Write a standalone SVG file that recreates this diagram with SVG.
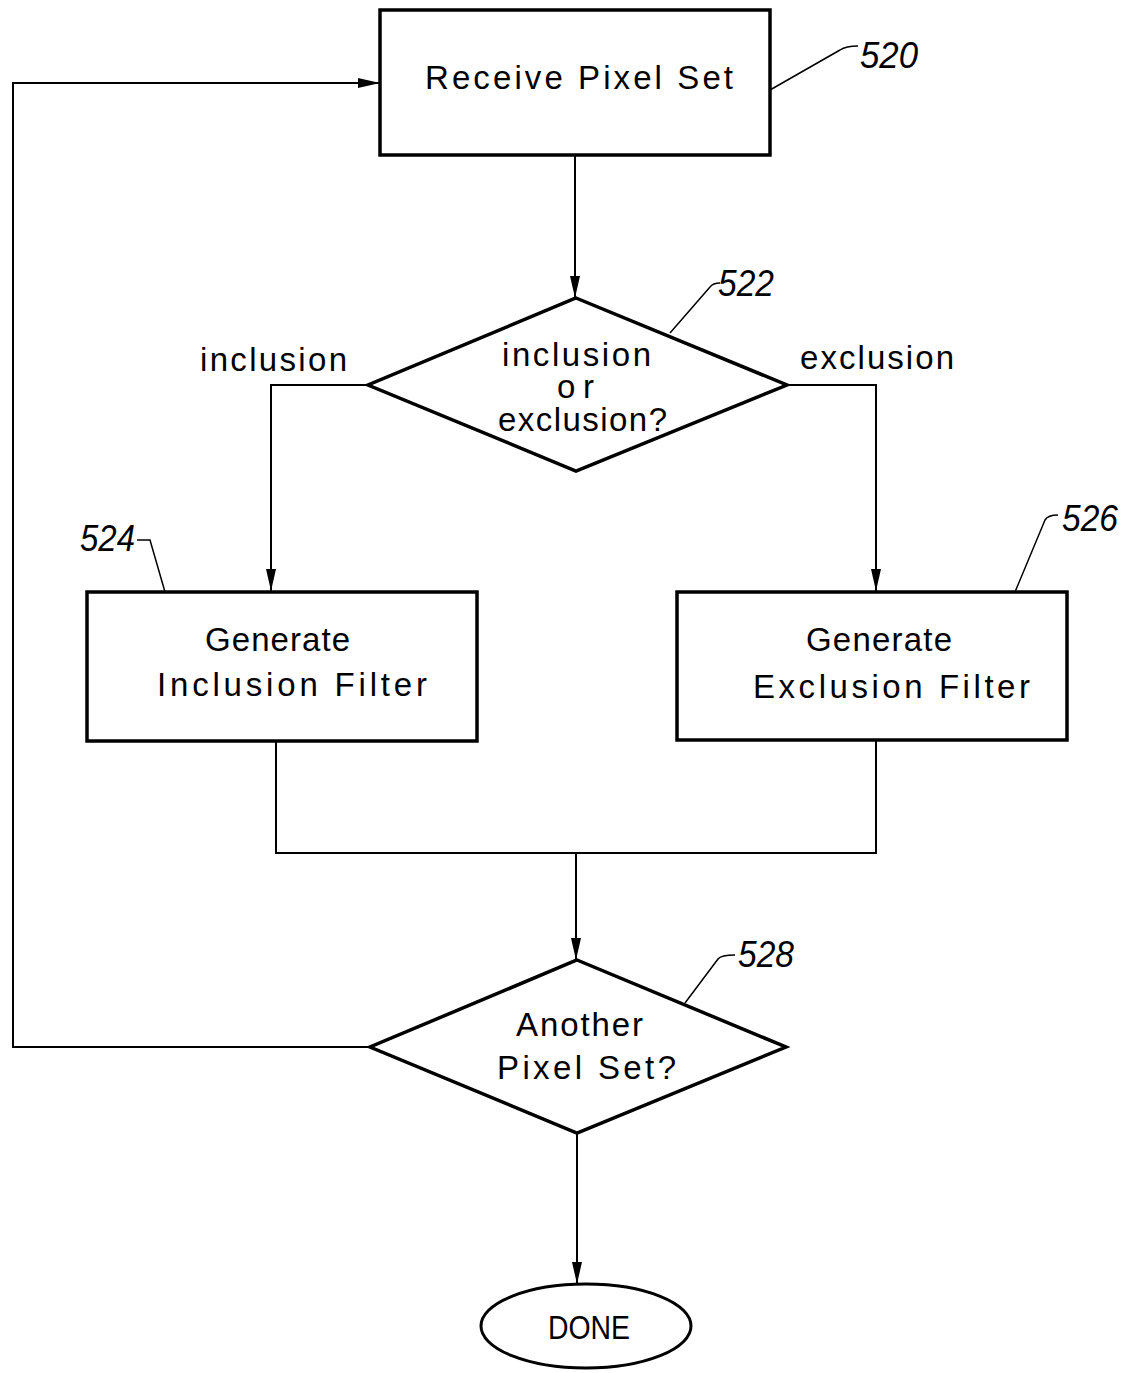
<svg xmlns="http://www.w3.org/2000/svg" width="1133" height="1373" viewBox="0 0 1133 1373">
<style>
.shape{fill:#fff;stroke:#000;stroke-width:3.5}
.conn{fill:none;stroke:#000;stroke-width:2}
.lead{fill:none;stroke:#000;stroke-width:1.5}
.t{font-family:"Liberation Sans",Arial,sans-serif;font-size:33px;fill:#000}
.n{font-family:"Liberation Sans",Arial,sans-serif;font-size:36px;font-style:italic;fill:#000}
</style>
<defs>
<marker id="ah" viewBox="0 0 22 10" refX="22" refY="5" markerWidth="22" markerHeight="10" markerUnits="userSpaceOnUse" orient="auto">
<path d="M0,0 L22,5 L0,10 Z" fill="#000"/>
</marker>
</defs>
<rect width="1133" height="1373" fill="#fff"/>
<g id="connectors">
<line class="conn" x1="575" y1="155" x2="575" y2="298" marker-end="url(#ah)"/>
<polyline class="conn" points="368,385 271,385 271,591" marker-end="url(#ah)"/>
<polyline class="conn" points="787,385 876,385 876,591" marker-end="url(#ah)"/>
<polyline class="conn" points="276,741 276,853 876,853 876,740"/>
<line class="conn" x1="576" y1="853" x2="576" y2="960" marker-end="url(#ah)"/>
<polyline class="conn" points="370,1047 13,1047 13,83 380,83" marker-end="url(#ah)"/>
<line class="conn" x1="577" y1="1133" x2="577" y2="1284" marker-end="url(#ah)"/>
</g>
<g id="n520">
<rect class="shape" x="380" y="10" width="390" height="145"/>
<text class="t" x="425" y="89" textLength="308" lengthAdjust="spacing">Receive Pixel Set</text>
<path class="lead" d="M770,90 L840,50 Q846,46 858,46"/>
<text class="n" x="860" y="68" textLength="58" lengthAdjust="spacingAndGlyphs">520</text>
</g>
<g id="n522">
<polygon class="shape" points="576,298 787,385 576,471 368,385"/>
<text class="t" x="502" y="366" textLength="149" lengthAdjust="spacing">inclusion</text>
<text class="t" x="557" y="398" textLength="37" lengthAdjust="spacing">or</text>
<text class="t" x="498" y="431" textLength="169" lengthAdjust="spacing">exclusion?</text>
<path class="lead" d="M670,333 L710,287 Q713,283 720,283"/>
<text class="n" x="718" y="296" textLength="56" lengthAdjust="spacingAndGlyphs">522</text>
<text class="t" x="200" y="371" textLength="147" lengthAdjust="spacing">inclusion</text>
<text class="t" x="800" y="369" textLength="154" lengthAdjust="spacing">exclusion</text>
</g>
<g id="n524">
<rect class="shape" x="87" y="592" width="390" height="149"/>
<text class="t" x="205" y="651" textLength="145" lengthAdjust="spacing">Generate</text>
<text class="t" x="157" y="696" textLength="270" lengthAdjust="spacing">Inclusion Filter</text>
<path class="lead" d="M137,540 L150,540 L165,592"/>
<text class="n" x="80" y="551" textLength="55" lengthAdjust="spacingAndGlyphs">524</text>
</g>
<g id="n526">
<rect class="shape" x="677" y="592" width="390" height="148"/>
<text class="t" x="806" y="651" textLength="146" lengthAdjust="spacing">Generate</text>
<text class="t" x="753" y="698" textLength="277" lengthAdjust="spacing">Exclusion Filter</text>
<path class="lead" d="M1015,592 L1045,520 Q1048,515 1058,515"/>
<text class="n" x="1062" y="531" textLength="56" lengthAdjust="spacingAndGlyphs">526</text>
</g>
<g id="n528">
<polygon class="shape" points="577,960 786,1047 577,1133 370,1047"/>
<text class="t" x="516" y="1036" textLength="127" lengthAdjust="spacing">Another</text>
<text class="t" x="497" y="1079" textLength="179" lengthAdjust="spacing">Pixel Set?</text>
<path class="lead" d="M685,1003 L718,959 Q721,955 735,955"/>
<text class="n" x="738" y="967" textLength="56" lengthAdjust="spacingAndGlyphs">528</text>
</g>
<g id="done">
<ellipse class="shape" cx="586" cy="1326" rx="105" ry="42" style="stroke-width:3"/>
<text class="t" x="548" y="1339" textLength="82" lengthAdjust="spacingAndGlyphs">DONE</text>
</g>
</svg>
